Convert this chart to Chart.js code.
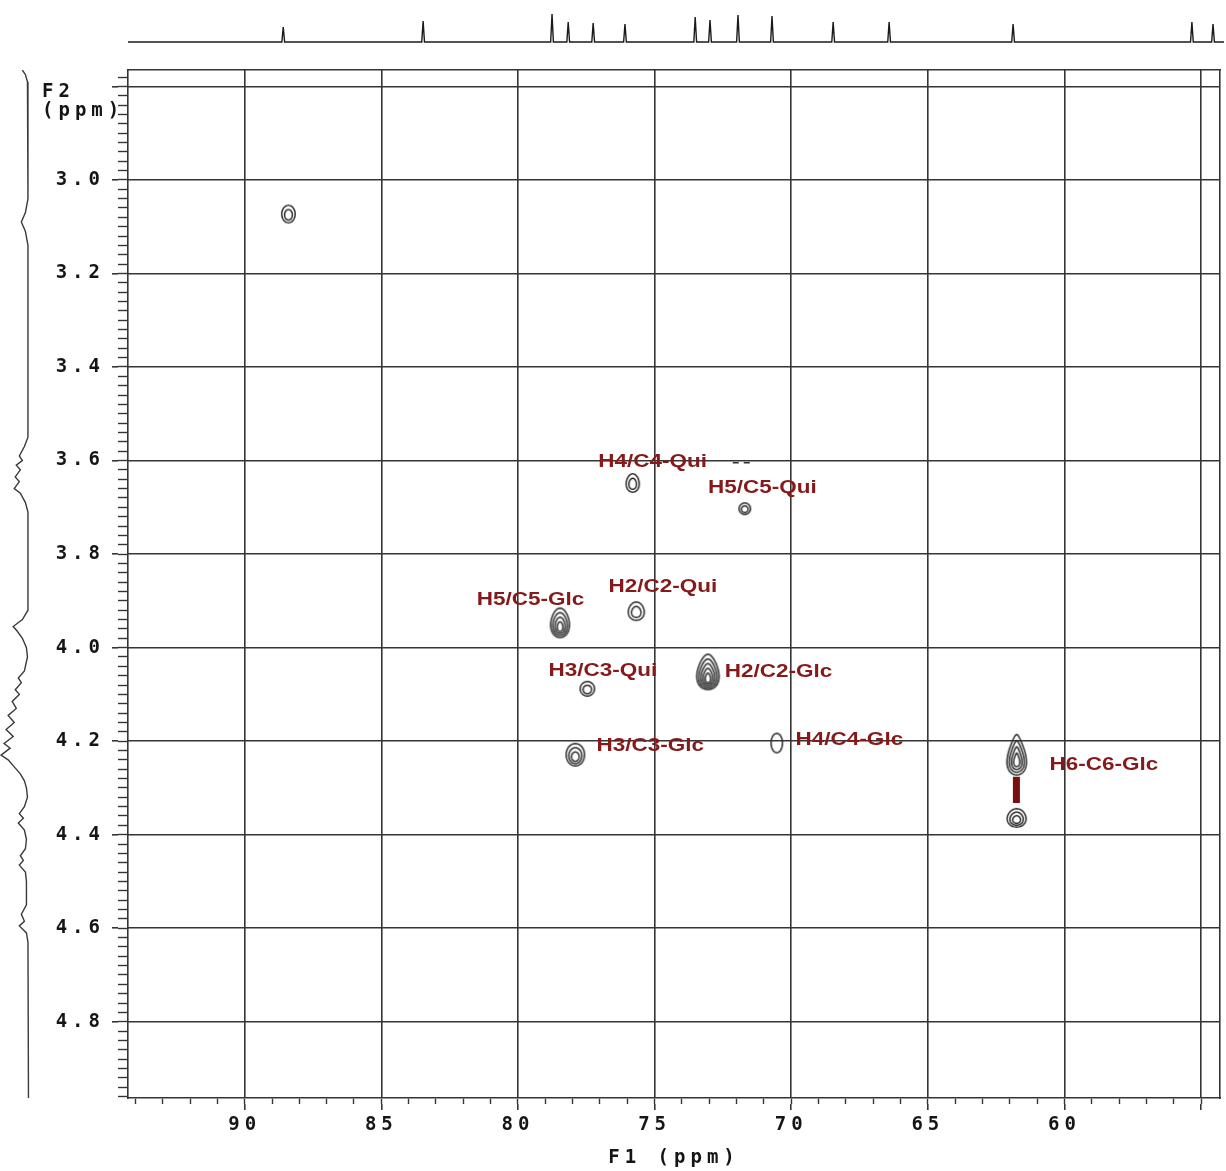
<!DOCTYPE html>
<html>
<head>
<meta charset="utf-8">
<script src="https://cdn.jsdelivr.net/npm/chart.js"></script>
<style>
  body { margin: 0; background: #fff; }
  #wrap { position: relative; width: 1226px; height: 1171px; }
  canvas { position: absolute; }
</style>
</head>
<body>
<div id="wrap">
  <canvas id="hsqc" width="1226" height="1171" style="left:0;top:0"></canvas>
  <canvas id="f1proj" width="1096" height="60" style="left:128px;top:0"></canvas>
  <canvas id="f2proj" width="60" height="1028" style="left:0;top:70px"></canvas>
</div>
<script>
// axis ranges (ppm)
const f1Range = [54.31, 94.27];
const f2Range = [2.765, 4.963];

// tick values / labels
const xMajorTicks = [90, 85, 80, 75, 70, 65, 60, 55];
const xTickLabels = ["90", "85", "80", "75", "70", "65", "60", ""];
const yMajorTicks = [2.8, 3.0, 3.2, 3.4, 3.6, 3.8, 4.0, 4.2, 4.4, 4.6, 4.8];
const yTickLabels = ["", "3.0", "3.2", "3.4", "3.6", "3.8", "4.0", "4.2", "4.4", "4.6", "4.8"];

// cross peaks (F1 = 13C, F2 = 1H)
const peakF1 = [88.40, 75.80, 71.70, 78.46, 75.67, 77.46, 73.05, 77.90, 70.53, 61.75, 61.75];
const peakF2 = [3.073, 3.648, 3.703, 3.947, 3.922, 4.088, 4.052, 4.229, 4.204, 4.229, 4.364];

// assignments
const labelText = ["H4/C4-Qui", "H5/C5-Qui", "H2/C2-Qui", "H5/C5-Glc", "H3/C3-Qui",
  "H2/C2-Glc", "H3/C3-Glc", "H4/C4-Glc", "H6-C6-Glc"];
const labelF1 = [77.06, 73.05, 76.69, 81.51, 78.88, 72.43, 77.13, 69.84, 60.55];
const labelF2 = [3.603, 3.658, 3.870, 3.898, 4.050, 4.052, 4.210, 4.197, 4.251];

// H6 pair link
const linkF1 = 61.76;
const linkF2 = [4.276, 4.332];

// 13C projection (top)
const topPeakPpm = [88.61, 83.51, 78.81, 78.22, 77.31, 76.15, 73.59, 73.05, 72.03,
  70.79, 68.56, 66.52, 62.0, 55.48, 54.71];
const topPeakHeight = [15, 21, 28, 20, 19, 18, 25, 22, 27, 26, 20, 20, 18, 20, 18];

// 1H projection (left)
const leftPpm = [2.765, 2.775, 2.79, 2.82, 3.04, 3.07, 3.09, 3.11, 3.14, 3.55, 3.57, 3.59,
  3.60, 3.61, 3.62, 3.635, 3.645, 3.66, 3.67, 3.69, 3.71, 3.92, 3.94, 3.955, 3.965, 3.98,
  4.0, 4.02, 4.05, 4.065, 4.075, 4.09, 4.10, 4.115, 4.13, 4.145, 4.16, 4.175, 4.19, 4.205,
  4.215, 4.23, 4.24, 4.255, 4.27, 4.285, 4.30, 4.32, 4.34, 4.355, 4.365, 4.375, 4.39, 4.41,
  4.43, 4.445, 4.455, 4.465, 4.48, 4.50, 4.55, 4.57, 4.585, 4.595, 4.61, 4.63, 4.963];
const leftInt = [6, 3, 1, 0.5, 0.5, 3, 7, 3, 0.5, 0.5, 4, 9, 6, 12, 8, 13, 9, 14, 8, 3, 0.5,
  0.5, 6, 15, 11, 6, 2, 1, 4, 10, 7, 13, 9, 16, 12, 20, 14, 22, 15, 24, 18, 27, 20, 14, 8,
  4, 2, 1, 4, 9, 5, 10, 4, 2, 3, 8, 5, 9, 3, 2, 2, 7, 4, 9, 2, 0.5, 0];

// contour look per peak: [width px, height px, rings, taper]
const peakLook = [[15, 19, 2, 0], [15, 20, 2, 0.1], [13, 13, 2, 0], [21, 31, 4, 0.15],
  [18, 20, 2, 0.1], [16, 16, 2, 0], [25, 37, 5, 0.3], [20, 24, 3, 0], [13, 21, 1, 0],
  [22, 42, 4, 0.5], [21, 20, 3, 0.1]];

const monoFont = { family: "'DejaVu Sans Mono', monospace", size: 19, weight: "bold" };
const gridColor = "#353535";
const textColor = "#151515";

function contourImage(w, h, rings, taper) {
  const c = document.createElement("canvas");
  c.width = w + 4;
  c.height = h + 4;
  const g = c.getContext("2d");
  g.strokeStyle = "#2c2c2c";
  g.lineWidth = 1.5;
  for (let r = 0; r < rings; r++) {
    const f = 1 - r / (rings + 0.7);
    const rx = (w / 2) * f - 0.8, ry = (h / 2) * f - 0.8;
    const cx = c.width / 2, cy = c.height / 2 + r * h * 0.04;
    g.beginPath();
    for (let i = 0; i <= 48; i++) {
      const t = (i / 48) * Math.PI * 2;
      const s = Math.sin(t);
      const x = cx + (rx * Math.cos(t) * (1 + taper * s)) / (1 + taper * 0.3);
      const y = cy + ry * s;
      if (i) g.lineTo(x, y); else g.moveTo(x, y);
    }
    g.closePath();
    g.stroke();
  }
  return c;
}
const peakImages = peakLook.map(p => contourImage(p[0], p[1], p[2], p[3]));

function range(a, b, step) {
  const out = [];
  for (let v = a; v <= b + 1e-9; v += step) out.push(Math.round(v * 1000) / 1000);
  return out;
}
const setTicks = vals => s => { s.ticks = vals.map(v => ({ value: v })); };

const spacing = {
  id: "spacing",
  beforeLayout(chart) { chart.ctx.letterSpacing = "5px"; },
  beforeDraw(chart) { chart.ctx.letterSpacing = "5px"; },
  afterDraw(chart) {
    const { ctx, scales } = chart;
    // F2 axis caption
    const x = chart.chartArea.left - 86;
    const y0 = scales.y.getPixelForValue(2.8);
    ctx.save();
    ctx.letterSpacing = "5px";
    ctx.font = "bold 19px 'DejaVu Sans Mono', monospace";
    ctx.fillStyle = textColor;
    ctx.textBaseline = "middle";
    ctx.textAlign = "left";
    ctx.fillText("F2", x, y0 + 6);
    ctx.fillText("(ppm)", x, y0 + 25);
    ctx.restore();
    // peak assignments
    ctx.save();
    ctx.letterSpacing = "0px";
    ctx.font = "bold 18px 'Liberation Sans', Arial, sans-serif";
    ctx.fillStyle = "#861a1a";
    ctx.textBaseline = "middle";
    ctx.textAlign = "left";
    labelText.forEach((t, i) => {
      const px = scales.x.getPixelForValue(labelF1[i]);
      const py = scales.y.getPixelForValue(labelF2[i]);
      ctx.save();
      ctx.translate(px, py);
      ctx.scale(1.25, 1);
      ctx.fillText(t, 0, 0);
      ctx.restore();
    });
    ctx.restore();
  }
};

new Chart(document.getElementById("hsqc"), {
  type: "scatter",
  data: {
    datasets: [
      {
        data: peakF1.map((v, i) => ({ x: v, y: peakF2[i] })),
        pointStyle: ctx => peakImages[ctx.dataIndex],
        pointRadius: 5
      },
      {
        data: linkF2.map(v => ({ x: linkF1, y: v })),
        showLine: true,
        borderColor: "#7a0f0f",
        borderWidth: 7,
        borderCapStyle: "butt",
        pointRadius: 0
      },
      {
        data: [{ x: 72.14, y: 3.605 }, { x: 71.41, y: 3.605 }],
        showLine: true,
        borderColor: "#333",
        borderWidth: 1.5,
        borderDash: [6, 5],
        pointRadius: 0
      }
    ]
  },
  options: {
    responsive: false,
    animation: false,
    events: [],
    layout: { padding: { left: 0, top: 70, right: 2, bottom: 0 } },
    plugins: { legend: { display: false }, tooltip: { enabled: false } },
    scales: {
      xMinor: {
        type: "linear", position: "bottom", weight: 0, reverse: true,
        min: f1Range[0], max: f1Range[1],
        afterBuildTicks: setTicks(range(55, 94, 1)),
        afterFit: s => { s.height = 6; },
        ticks: { display: false },
        grid: { drawOnChartArea: false, tickLength: 6, tickColor: gridColor, tickWidth: 1.4 },
        border: { display: true, color: gridColor, width: 1.6 }
      },
      x: {
        type: "linear", position: "bottom", weight: 1, reverse: true,
        min: f1Range[0], max: f1Range[1],
        afterBuildTicks: setTicks(xMajorTicks),
        afterFit: s => { s.height = 67; },
        ticks: {
          autoSkip: false, maxRotation: 0, padding: 4, color: textColor, font: monoFont,
          callback: (v, i) => xTickLabels[i]
        },
        grid: { color: gridColor, lineWidth: 1.6, tickLength: 6, tickColor: gridColor },
        border: { display: false },
        title: { display: true, text: "F1 (ppm)", color: textColor, font: monoFont, padding: { top: 0, bottom: 2 } }
      },
      xTop: {
        type: "linear", position: "top", reverse: true,
        min: f1Range[0], max: f1Range[1],
        afterFit: s => { s.height = 0; },
        ticks: { display: false },
        grid: { drawOnChartArea: false, drawTicks: false },
        border: { display: true, color: gridColor, width: 1.6 }
      },
      yMinor: {
        type: "linear", position: "left", weight: 0, reverse: true,
        min: f2Range[0], max: f2Range[1],
        afterBuildTicks: setTicks(range(2.78, 4.96, 0.02)),
        afterFit: s => { s.width = 10; },
        ticks: { display: false },
        grid: { drawOnChartArea: false, tickLength: 10, tickColor: gridColor, tickWidth: 1.4 },
        border: { display: true, color: gridColor, width: 1.6 }
      },
      y: {
        type: "linear", position: "left", weight: 1, reverse: true,
        min: f2Range[0], max: f2Range[1],
        afterBuildTicks: setTicks(yMajorTicks),
        afterFit: s => { s.width = 118; },
        ticks: {
          autoSkip: false, padding: 7, color: textColor, font: monoFont,
          callback: (v, i) => yTickLabels[i]
        },
        grid: { color: gridColor, lineWidth: 1.6, tickLength: 6, tickColor: gridColor },
        border: { display: false }
      },
      yRight: {
        type: "linear", position: "right", reverse: true,
        min: f2Range[0], max: f2Range[1],
        afterFit: s => { s.width = 0; },
        ticks: { display: false },
        grid: { drawOnChartArea: false, drawTicks: false },
        border: { display: true, color: gridColor, width: 1.6 }
      }
    }
  },
  plugins: [spacing]
});

// 13C projection: each peak drawn as a narrow spike on the baseline
const topTrace = [{ x: f1Range[1], y: 0 }];
topPeakPpm.forEach((p, i) => {
  topTrace.push({ x: p + 0.05, y: 0 }, { x: p, y: topPeakHeight[i] }, { x: p - 0.05, y: 0 });
});
topTrace.push({ x: f1Range[0], y: 0 });

new Chart(document.getElementById("f1proj"), {
  type: "scatter",
  data: { datasets: [{ data: topTrace, showLine: true, borderColor: "#1a1a1a", borderWidth: 1.4, pointRadius: 0 }] },
  options: {
    responsive: false, animation: false, events: [],
    layout: { padding: 0 },
    plugins: { legend: { display: false }, tooltip: { enabled: false } },
    scales: {
      x: { type: "linear", reverse: true, min: f1Range[0], max: f1Range[1], display: false },
      y: { type: "linear", min: -18, max: 42, display: false }
    }
  }
});

// 1H projection on the left
new Chart(document.getElementById("f2proj"), {
  type: "scatter",
  data: {
    datasets: [{
      data: leftPpm.map((v, i) => ({ x: leftInt[i], y: v })),
      showLine: true, borderColor: "#3a3a3a", borderWidth: 1.4, pointRadius: 0
    }]
  },
  options: {
    responsive: false, animation: false, events: [],
    layout: { padding: 0 },
    plugins: { legend: { display: false }, tooltip: { enabled: false } },
    scales: {
      x: { type: "linear", reverse: true, min: -31, max: 28, display: false },
      y: { type: "linear", reverse: true, min: f2Range[0], max: f2Range[1], display: false }
    }
  }
});
</script>
</body>
</html>
